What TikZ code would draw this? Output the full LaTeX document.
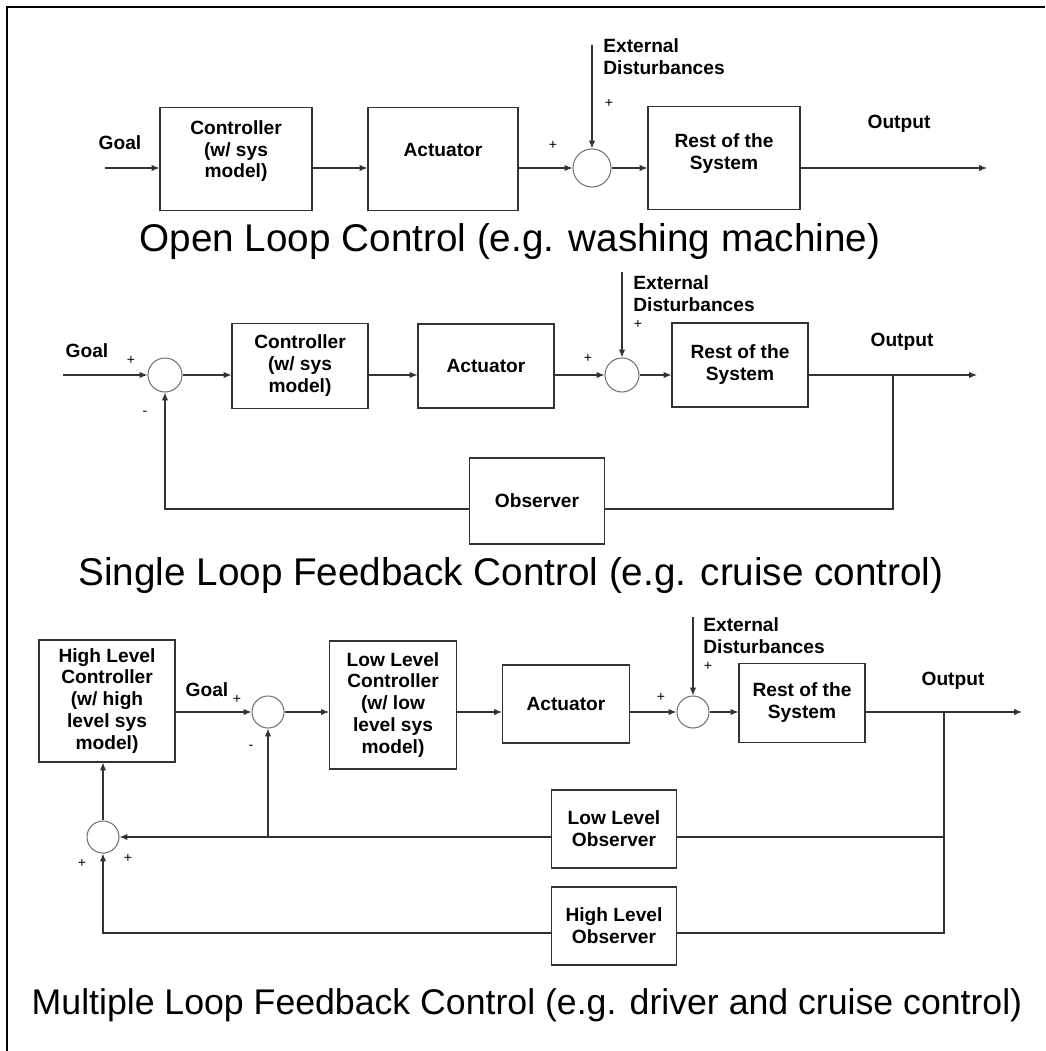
\documentclass[tikz,border=0pt]{standalone}
\usepackage{fontspec}
\setmainfont{Liberation Sans}
\usetikzlibrary{positioning,arrows.meta}

\begin{document}
\begin{tikzpicture}[x=0.02cm,y=-0.02cm,>={Latex[length=4.5pt,width=3.6pt]},
  block/.style={draw=black!80,line width=0.6pt,align=center,inner sep=1pt,font=\bfseries\fontsize{10.9}{12.5}\selectfont},
  sumnode/.style={circle,draw=black!55,line width=0.6pt,inner sep=0pt},
  txt/.style={font=\bfseries\fontsize{10.9}{12.5}\selectfont,align=left,inner sep=0pt},
  sign/.style={font=\fontsize{8}{8}\selectfont,inner sep=0pt},
  headline/.style={font=\fontsize{22}{24}\selectfont,inner sep=0pt},
  wire/.style={line width=0.6pt,draw=black!80}]

  \useasboundingbox (0,0) rectangle (1045,1051);
  % frame
  \draw[line width=1.4pt] (1045,7) -- (7,7) -- (7,1051);

  % Open loop
  \coordinate (rowA) at (0,168);
  \coordinate (inA) at (105,168);
  \coordinate (distA) at (592,45);
  \coordinate (outA) at (987,168);
  \node [txt] at (120,143) (goalA) {Goal};
  \node [block,minimum width=3.04cm,minimum height=2.06cm,text depth=11.3pt] at (236,159) (ctrlA) {Controller\\(w/ sys\\model)};
  \node [block,minimum width=3.0cm,minimum height=2.06cm,text depth=10pt] at (443,159) (actA) {Actuator};
  \node [sumnode,minimum size=0.76cm] at (592,168) (sumA) {};
  \node [block,minimum width=3.04cm,minimum height=2.06cm,text depth=7.3pt] at (724,158) (restA) {Rest of the\\System};
  \node [txt,anchor=west] at (603,57) (distTxtA) {External\\Disturbances};
  \node [txt] at (899,124) (outTxtA) {Output};
  \node [sign] at (553,145) (pA1) {+};
  \node [sign] at (609,103) (pA2) {+};
  \node [headline] at (510,242) (capA) {Open Loop Control (e.g. washing machine)};

  \draw[wire,->] (inA) -- (ctrlA.west |- rowA);
  \draw[wire,->] (ctrlA.east |- rowA) -- (actA.west |- rowA);
  \draw[wire,->] (actA.east |- rowA) -- (sumA);
  \draw[wire,->] (distA) -- (sumA);
  \draw[wire,->] (sumA) -- (restA.west |- rowA);
  \draw[wire,->] (restA.east |- rowA) -- (outA);

  % Single loop
  \coordinate (rowB) at (0,375);
  \coordinate (fbB) at (0,509);
  \coordinate (inB) at (63,375);
  \coordinate (distB) at (622,272);
  \coordinate (outB) at (977,375);
  \coordinate (brB) at (893,375);
  \node [txt] at (87,351) (goalB) {Goal};
  \node [sumnode,minimum size=0.68cm] at (165,375) (sumB) {};
  \node [block,minimum width=2.72cm,minimum height=1.7cm] at (300,366) (ctrlB) {Controller\\(w/ sys\\model)};
  \node [block,minimum width=2.72cm,minimum height=1.68cm] at (486,366) (actB) {Actuator};
  \node [sumnode,minimum size=0.68cm] at (622,375) (sumC) {};
  \node [block,minimum width=2.72cm,minimum height=1.68cm] at (740,365) (restB) {Rest of the\\System};
  \node [block,minimum width=2.7cm,minimum height=1.72cm] at (537,501) (obsB) {Observer};
  \node [txt,anchor=west] at (633,294) (distTxtB) {External\\Disturbances};
  \node [txt] at (902,342) (outTxtB) {Output};
  \node [sign] at (131,360) (pB1) {+};
  \node [sign] at (145,413) (mB1) {-};
  \node [sign] at (588,358) (pB2) {+};
  \node [sign] at (638,324) (pB3) {+};
  \node [headline] at (511,575) (capB) {Single Loop Feedback Control (e.g. cruise control)};

  \draw[wire,->] (inB) -- (sumB);
  \draw[wire,->] (sumB) -- (ctrlB.west |- rowB);
  \draw[wire,->] (ctrlB.east |- rowB) -- (actB.west |- rowB);
  \draw[wire,->] (actB.east |- rowB) -- (sumC);
  \draw[wire,->] (distB) -- (sumC);
  \draw[wire,->] (sumC) -- (restB.west |- rowB);
  \draw[wire,->] (restB.east |- rowB) -- (outB);
  \draw[wire] (brB) |- (obsB.east |- fbB);
  \draw[wire,->] (obsB.west |- fbB) -| (sumB);

  % Multiple loop
  \coordinate (rowC) at (0,712);
  \coordinate (fbLow) at (0,837);
  \coordinate (fbHigh) at (0,933);
  \coordinate (distC) at (693,617);
  \coordinate (outC) at (1022,712);
  \coordinate (brC) at (944,712);
  \node [block,minimum width=2.72cm,minimum height=2.44cm] at (107,701) (hlc) {High Level\\Controller\\(w/ high\\level sys\\model)};
  \node [txt] at (207,690) (goalC) {Goal};
  \node [sumnode,minimum size=0.64cm] at (268,712) (sumD) {};
  \node [block,minimum width=2.54cm,minimum height=2.56cm] at (393,705) (llc) {Low Level\\Controller\\(w/ low\\level sys\\model)};
  \node [block,minimum width=2.54cm,minimum height=1.56cm] at (566,704) (actC) {Actuator};
  \node [sumnode,minimum size=0.64cm] at (693,712) (sumE) {};
  \node [block,minimum width=2.52cm,minimum height=1.58cm] at (802,703) (restC) {Rest of the\\System};
  \node [block,minimum width=2.5cm,minimum height=1.56cm] at (614,829) (llo) {Low Level\\Observer};
  \node [block,minimum width=2.5cm,minimum height=1.56cm] at (614,926) (hlo) {High Level\\Observer};
  \node [sumnode,minimum size=0.64cm] at (103,837) (sumF) {};
  \coordinate (jnC) at (sumD |- fbLow);
  \node [txt,anchor=west] at (703,636) (distTxtC) {External\\Disturbances};
  \node [txt] at (953,681) (outTxtC) {Output};
  \node [sign] at (237,699) (pC1) {+};
  \node [sign] at (251,747) (mC1) {-};
  \node [sign] at (661,697) (pC2) {+};
  \node [sign] at (708,666) (pC3) {+};
  \node [sign] at (82,863) (pC4) {+};
  \node [sign] at (128,858) (pC5) {+};
  \node [headline,font=\fontsize{20.3}{22}\selectfont] at (527,1005) (capC) {Multiple Loop Feedback Control (e.g. driver and cruise control)};

  \draw[wire,->] (hlc.east |- rowC) -- (sumD);
  \draw[wire,->] (sumD) -- (llc.west |- rowC);
  \draw[wire,->] (llc.east |- rowC) -- (actC.west |- rowC);
  \draw[wire,->] (actC.east |- rowC) -- (sumE);
  \draw[wire,->] (distC) -- (sumE);
  \draw[wire,->] (sumE) -- (restC.west |- rowC);
  \draw[wire,->] (restC.east |- rowC) -- (outC);
  \draw[wire] (brC) |- (llo.east |- fbLow);
  \draw[wire] (brC) |- (hlo.east |- fbHigh);
  \draw[wire,->] (llo.west |- fbLow) -- (sumF);
  \draw[wire,->] (jnC) -- (sumD);
  \draw[wire,->] (hlo.west |- fbHigh) -| (sumF);
  \draw[wire,->] (sumF) -- (hlc.south -| sumF);

\end{tikzpicture}
\end{document}
